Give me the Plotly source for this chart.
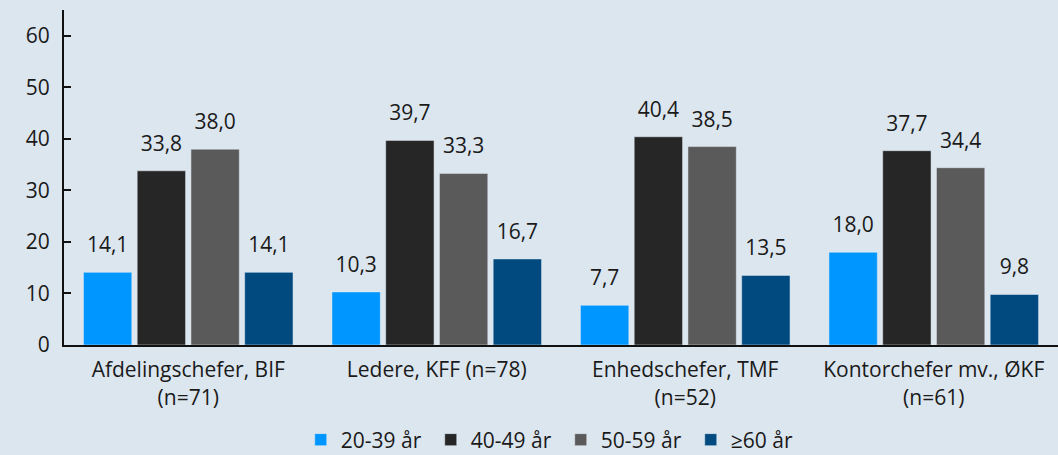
import plotly.graph_objects as go

categories = ["Afdelingschefer, BIF<br>(n=71)", "Ledere, KFF (n=78)",
              "Enhedschefer, TMF<br>(n=52)", "Kontorchefer mv., ØKF<br>(n=61)"]
series_names = ["20-39 år", "40-49 år", "50-59 år", "≥60 år"]
v_20_39 = [14.1, 10.3, 7.7, 18.0]
v_40_49 = [33.8, 39.7, 40.4, 37.7]
v_50_59 = [38.0, 33.3, 38.5, 34.4]
v_60 = [14.1, 16.7, 13.5, 9.8]
colors = ["#0096ff", "#262626", "#5a5a5a", "#004a7f"]
y_ticks = [0, 10, 20, 30, 40, 50, 60]

FONT = "'Open Sans', sans-serif"
FS = 21
GAP = 0.135
fig = go.Figure()
all_vals = [v_20_39, v_40_49, v_50_59, v_60]
for name, vals, col in zip(series_names, all_vals, colors):
    fig.add_trace(go.Bar(
        x=categories, y=vals, name=name, marker_color=col,
        offsetgroup=name, hoverinfo="skip",
    ))
for name, vals in zip(series_names, all_vals):
    fig.add_trace(go.Scatter(
        x=categories, y=vals, mode="markers+text", offsetgroup=name,
        marker=dict(size=22, opacity=0), showlegend=False,
        texttemplate="%{y:.1f}", textposition="top center",
        textfont=dict(size=FS, color="#1a1a1a", family=FONT),
        cliponaxis=False, hoverinfo="skip",
    ))

fig.update_layout(
    width=1058, height=455,
    paper_bgcolor="#dce6ef", plot_bgcolor="#dce6ef",
    margin=dict(l=64, r=0, t=10, b=110),
    barmode="group", bargap=GAP, bargroupgap=0.1,
    scattermode="group", scattergap=GAP,
    separators=",.",
    font=dict(family=FONT, size=FS, color="#1a1a1a"),
    legend=dict(orientation="h", x=0.53, xanchor="center", xref="container",
                y=0.033, yanchor="middle", yref="container",
                entrywidth=85, entrywidthmode="pixels",
                font=dict(size=FS), itemwidth=30, traceorder="normal",
                bgcolor="rgba(0,0,0,0)"),
    showlegend=True,
)
fig.update_yaxes(range=[0, 65], tickvals=y_ticks, showgrid=False, zeroline=False,
                 showline=True, linecolor="#111111", linewidth=2,
                 ticks="inside", ticklen=7, tickcolor="#111111", tickwidth=2,
                 tickfont=dict(size=FS), ticklabelstandoff=8)
fig.update_xaxes(showline=True, linecolor="#111111", linewidth=2, ticks="",
                 tickangle=0, tickfont=dict(size=FS), ticklabelstandoff=5)

fig.write_html("out.html", config={"displayModeBar": False},
               post_script="document.body.style.margin='0';document.body.style.overflow='hidden';")
